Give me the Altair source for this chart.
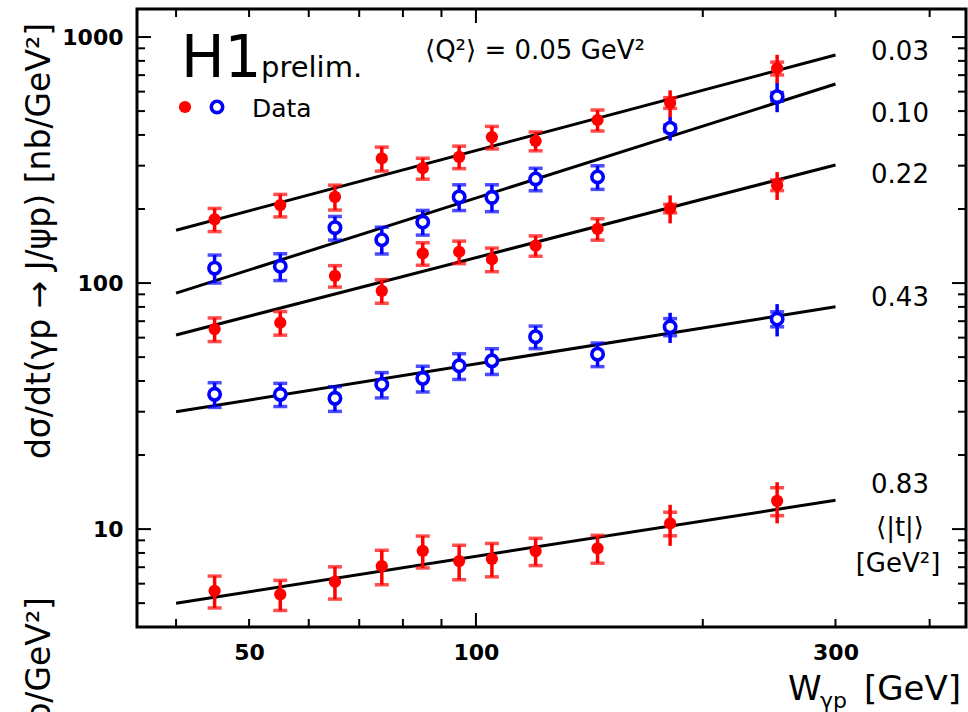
import altair as alt
import pandas as pd

# ---------------- data ----------------
W = [45, 55, 65, 75, 85, 95, 105, 120, 145, 181, 251]
series_t = ["0.03", "0.10", "0.22", "0.43", "0.83"]
series_kind = ["red", "blue", "red", "blue", "red"]

xsec = {
    "0.03": [181.5, 207.5, 224, 321, 293, 326, 392, 378, 460, 540, 746],
    "0.10": [115, 117, 168, 150, 177, 224, 223, 265, 270, 426, 572],
    "0.22": [65, 69, 107, 93, 132, 134, 125, 142, 166, 201, 250],
    "0.43": [35.3, 35.3, 34.0, 38.7, 41.0, 46.1, 48.3, 60.5, 51.4, 66.4, 71.4],
    "0.83": [5.61, 5.43, 6.11, 7.07, 8.16, 7.41, 7.57, 8.14, 8.35, 10.55, 13.03],
}
# relative statistical (cap) errors
stat_err = {
    "0.03": [0.108, 0.105, 0.116, 0.112, 0.098, 0.105, 0.105, 0.088, 0.098, 0.05, 0.06],
    "0.10": [0.13, 0.125, 0.11, 0.125, 0.115, 0.12, 0.125, 0.105, 0.11, 0.03, 0.04],
    "0.22": [0.11, 0.11, 0.10, 0.11, 0.105, 0.105, 0.11, 0.095, 0.10, 0.04, 0.05],
    "0.43": [0.115, 0.108, 0.115, 0.118, 0.12, 0.12, 0.12, 0.105, 0.11, 0.08, 0.07],
    "0.83": [0.148, 0.14, 0.15, 0.16, 0.148, 0.16, 0.155, 0.127, 0.13, 0.11, 0.13],
}
# relative total errors
tot_err = {
    "0.03": [0.108, 0.105, 0.116, 0.112, 0.098, 0.105, 0.105, 0.088, 0.098, 0.124, 0.135],
    "0.10": [0.13, 0.125, 0.11, 0.125, 0.115, 0.12, 0.125, 0.105, 0.11, 0.11, 0.135],
    "0.22": [0.11, 0.11, 0.10, 0.11, 0.105, 0.105, 0.11, 0.095, 0.10, 0.13, 0.13],
    "0.43": [0.115, 0.108, 0.115, 0.118, 0.12, 0.12, 0.12, 0.105, 0.11, 0.14, 0.15],
    "0.83": [0.148, 0.14, 0.15, 0.16, 0.148, 0.16, 0.155, 0.127, 0.13, 0.19, 0.19],
}
# power-law fit curves, value at W = 40 and W = 300 GeV
fit_W = [40, 300]
fit = {
    "0.03": [164, 845],
    "0.10": [91, 644],
    "0.22": [61.5, 302],
    "0.43": [30.0, 80.1],
    "0.83": [5.0, 13.1],
}

x_ticks_major = [100]
x_ticks_minor = [40, 50, 60, 70, 80, 90, 200, 300, 400]
y_ticks_major = [10, 100, 1000]
y_ticks_minor = [5, 6, 7, 8, 9, 20, 30, 40, 50, 60, 70, 80, 90,
                 200, 300, 400, 500, 600, 700, 800, 900]
x_labels = [50, 100, 300]
y_labels = [10, 100, 1000]

# ---------------- tables ----------------
rows, caps, fits = [], [], []
for s, k in zip(series_t, series_kind):
    for i, w in enumerate(W):
        v = xsec[s][i]
        rows.append(dict(W=w, y=v, lo=v * (1 - tot_err[s][i]), hi=v * (1 + tot_err[s][i]),
                         series=s, kind=k))
        caps.append(dict(W=w, y=v * (1 - stat_err[s][i]), series=s, kind=k))
        caps.append(dict(W=w, y=v * (1 + stat_err[s][i]), series=s, kind=k))
    for w, v in zip(fit_W, fit[s]):
        fits.append(dict(W=w, y=v, series=s))
df = pd.DataFrame(rows)
df_caps = pd.DataFrame(caps)
df_fit = pd.DataFrame(fits)

PW, PH = 829, 618
FONT = "DejaVu Sans"

xs = alt.Scale(type="log", domain=[35.5, 447], nice=False)
ys = alt.Scale(type="log", domain=[4, 1300], nice=False)
xaxis = alt.Axis(values=x_labels, format="d", ticks=False, domain=False, grid=False,
                 labelFont=FONT, labelFontWeight="bold", labelFontSize=22,
                 labelPadding=15, labelColor="black", title=None, labelFlush=False)
yaxis = alt.Axis(values=y_labels, format="d", ticks=False, domain=False, grid=False,
                 labelFont=FONT, labelFontWeight="bold", labelFontSize=22,
                 labelPadding=14, labelColor="black", title=None, labelFlush=False)
X = alt.X("W:Q", scale=xs, axis=xaxis, title=None)
Y = alt.Y("y:Q", scale=ys, axis=yaxis, title=None)
colscale = alt.Scale(domain=["red", "blue"], range=["#ff0000", "#0000ff"])

fit_layer = alt.Chart(df_fit).mark_line(color="black", strokeWidth=3).encode(
    x=X, y=Y, detail="series:N")

err_layer = alt.Chart(df).mark_rule(strokeWidth=3.5).encode(
    x=X, y=alt.Y("lo:Q", scale=ys, axis=yaxis, title=None), y2="hi:Q",
    color=alt.Color("kind:N", scale=colscale, legend=None))

cap_layer = alt.Chart(df_caps).mark_tick(orient="horizontal", size=14, thickness=3.5).encode(
    x=X, y=Y, color=alt.Color("kind:N", scale=colscale, legend=None))

red_pts = alt.Chart(df).transform_filter(alt.datum.kind == "red").mark_point(
    shape="circle", filled=True, size=150, color="#ff0000", opacity=1).encode(x=X, y=Y)
blue_pts = alt.Chart(df).transform_filter(alt.datum.kind == "blue").mark_point(
    shape="circle", filled=True, fill="white", stroke="#0000ff", strokeWidth=3.6,
    size=130, opacity=1).encode(x=X, y=Y)

# frame ticks (inside, on all four sides)
def xticks(vals, length):
    d = pd.DataFrame({"W": vals})
    bot = alt.Chart(d).mark_rule(color="black", strokeWidth=2).encode(
        x=X, y=alt.value(PH), y2=alt.value(PH - length))
    top = alt.Chart(d).mark_rule(color="black", strokeWidth=2).encode(
        x=X, y=alt.value(0), y2=alt.value(length))
    return [bot, top]

def yticks(vals, length):
    d = pd.DataFrame({"y": vals})
    left = alt.Chart(d).mark_rule(color="black", strokeWidth=2).encode(
        y=Y, x=alt.value(0), x2=alt.value(length))
    right = alt.Chart(d).mark_rule(color="black", strokeWidth=2).encode(
        y=Y, x=alt.value(PW), x2=alt.value(PW - length))
    return [left, right]

tick_layers = (xticks(x_ticks_major, 14) + xticks(x_ticks_minor, 8)
               + yticks(y_ticks_major, 14) + yticks(y_ticks_minor, 8))


def txt(label, x, y, size, align="left", baseline="alphabetic", angle=None,
        weight="normal"):
    kw = dict(align=align, baseline=baseline, fontSize=size, font=FONT,
              color="black", fontWeight=weight)
    if angle is not None:
        kw["angle"] = angle
    return alt.Chart(pd.DataFrame({"t": [label]})).mark_text(**kw).encode(
        x=alt.value(x), y=alt.value(y), text="t:N")

ytitle = "dσ/dt(γp → J/ψp) [nb/GeV²]"
texts = [
    txt("H1", 44, 68, 58),
    txt("prelim.", 124, 68, 29),
    txt("⟨Q²⟩ = 0.05 GeV²", 288, 50, 26),
    txt("Data", 115, 108, 25),
    txt("0.03", 763, 51, 26, align="center"),
    txt("0.10", 763, 113, 26, align="center"),
    txt("0.22", 763, 174, 26, align="center"),
    txt("0.43", 763, 297, 26, align="center"),
    txt("0.83", 763, 484, 26, align="center"),
    txt("⟨|t|⟩", 763, 527, 26, align="center"),
    txt("[GeV²]", 761, 563, 26, align="center"),
    txt(ytitle, -97, 232, 33, align="center", baseline="middle", angle=270),
    txt(ytitle, -97, 588, 33, align="right", baseline="middle", angle=270),
    txt("W", 651, 691, 34),
    txt("γp", 683, 699, 22),
    txt("[GeV]", 824, 691, 34, align="right"),
]

one = pd.DataFrame({"t": [""]})
leg_red = alt.Chart(one).mark_point(shape="circle", filled=True, size=150,
                                    color="#ff0000", opacity=1).encode(
    x=alt.value(48), y=alt.value(98))
leg_blue = alt.Chart(one).mark_point(shape="circle", filled=True, fill="white",
                                     stroke="#0000ff", strokeWidth=3.6, size=130,
                                     opacity=1).encode(
    x=alt.value(80), y=alt.value(98))

chart = alt.layer(
    fit_layer, err_layer, cap_layer, red_pts, blue_pts,
    *tick_layers, *texts, leg_red, leg_blue
).properties(
    width=PW, height=PH,
    padding={"left": 137, "top": 9, "right": 2, "bottom": 85},
    autosize=alt.AutoSizeParams(type="none"),
    background="white",
).configure_view(stroke="black", strokeWidth=3)

chart.save("out.html", embed_options={"renderer": "svg", "actions": False})
